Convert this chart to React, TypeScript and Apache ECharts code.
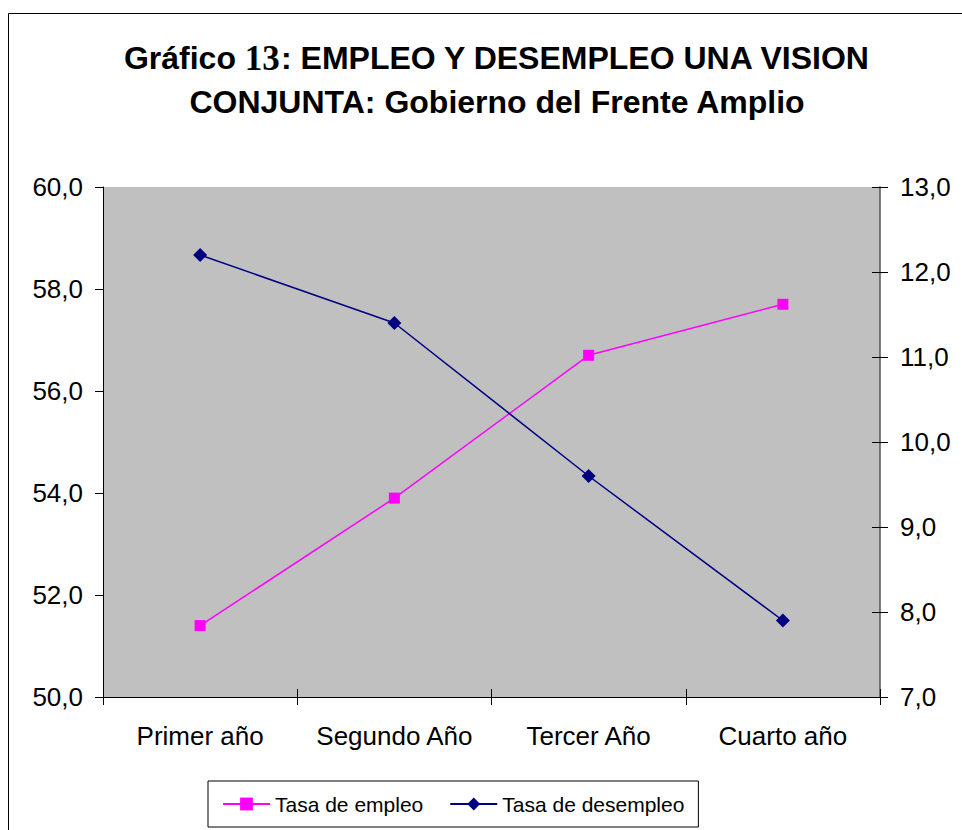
import React, { useEffect, useRef } from "react";
import * as echarts from "echarts";

const categories = ["Primer año", "Segundo Año", "Tercer Año", "Cuarto año"];
const empleo = [51.4, 53.9, 56.7, 57.7];
const desempleo = [12.2, 11.4, 9.6, 7.9];
const leftAxis = { min: 50, max: 60, interval: 2 };
const rightAxis = { min: 7, max: 13, interval: 1 };

const FONT = "'Liberation Sans', Arial, sans-serif";
const fmt = (v: number) => v.toFixed(1).replace(".", ",");

export default function App() {
  const ref = useRef<HTMLDivElement>(null);
  useEffect(() => {
    if (!ref.current) return;
    const chart = echarts.init(ref.current, null, { renderer: "svg" });
    chart.setOption({
      animation: false,
      backgroundColor: "#ffffff",
      textStyle: { fontFamily: FONT },
      graphic: [
        {
          type: "rect",
          shape: { x: 8.5, y: 13.5, width: 1000, height: 900 },
          style: { fill: "none", stroke: "#000", lineWidth: 1 },
          silent: true,
          z: -1,
        },
      ],
      title: {
        left: 492,
        textAlign: "center",
        top: 31,
        text:
          "{a|Gráfico }{b|13}{a|: EMPLEO Y DESEMPLEO UNA VISION}\n{a|CONJUNTA: Gobierno del Frente Amplio}",
        textStyle: {
          rich: {
            a: { fontFamily: FONT, fontWeight: "bold", fontSize: 32, color: "#000", lineHeight: 44 },
            b: { fontFamily: "'Liberation Serif', 'Times New Roman', serif", fontWeight: "bold", fontSize: 35, color: "#000", lineHeight: 44 },
          },
        },
      },
      grid: {
        left: 103,
        right: 82,
        top: 187,
        bottom: 133,
        show: true,
        backgroundColor: "#c0c0c0",
        borderWidth: 0,
      },
      legend: {
        left: 208,
        top: 781,
        orient: "horizontal",
        padding: [10, 14, 10, 14],
        borderColor: "#000",
        borderWidth: 1,
        backgroundColor: "#fff",
        itemWidth: 47,
        itemHeight: 16,
        itemGap: 26,
        textStyle: { fontFamily: FONT, fontSize: 21, color: "#000", lineHeight: 26 },
        data: ["Tasa de empleo", "Tasa de desempleo"],
      },
      xAxis: [
        {
          type: "category",
          data: categories,
          boundaryGap: true,
          axisLine: { show: true, lineStyle: { color: "#000", width: 1 } },
          axisTick: { show: true, length: 8, lineStyle: { color: "#000" } },
          axisLabel: { interval: 0, fontFamily: FONT, fontSize: 26, color: "#000", margin: 26 },
          splitLine: { show: false },
        },
        {
          type: "category",
          data: categories,
          boundaryGap: true,
          position: "bottom",
          axisLine: { show: false },
          axisTick: { show: true, inside: true, length: 8, lineStyle: { color: "#000" } },
          axisLabel: { show: false },
          splitLine: { show: false },
        },
      ],
      yAxis: [
        {
          type: "value",
          position: "left",
          min: leftAxis.min,
          max: leftAxis.max,
          interval: leftAxis.interval,
          axisLine: { show: true, lineStyle: { color: "#000", width: 1 } },
          axisTick: { show: true, length: 8, lineStyle: { color: "#000" } },
          axisLabel: { fontFamily: FONT, fontSize: 26, color: "#000", margin: 20, formatter: fmt },
          splitLine: { show: false },
        },
        {
          type: "value",
          position: "right",
          min: rightAxis.min,
          max: rightAxis.max,
          interval: rightAxis.interval,
          axisLine: { show: true, lineStyle: { color: "#555", width: 1.5 } },
          axisTick: { show: true, length: 8, lineStyle: { color: "#000" } },
          axisLabel: { fontFamily: FONT, fontSize: 26, color: "#000", margin: 20, formatter: fmt },
          splitLine: { show: false },
        },
        {
          type: "value",
          position: "right",
          min: rightAxis.min,
          max: rightAxis.max,
          interval: rightAxis.interval,
          axisLine: { show: false },
          axisTick: { show: true, inside: true, length: 8, lineStyle: { color: "#000" } },
          axisLabel: { show: false },
          splitLine: { show: false },
        },
      ],
      series: [
        {
          name: "Tasa de empleo",
          type: "line",
          xAxisIndex: 0,
          yAxisIndex: 0,
          data: empleo,
          symbol: "rect",
          symbolSize: 11,
          itemStyle: { color: "#ff00ff" },
          lineStyle: { color: "#ff00ff", width: 1.5 },
        },
        {
          name: "Tasa de desempleo",
          type: "line",
          xAxisIndex: 0,
          yAxisIndex: 1,
          data: desempleo,
          symbol: "diamond",
          symbolSize: 14,
          itemStyle: { color: "#000080" },
          lineStyle: { color: "#000080", width: 1.5 },
        },
      ],
    });
    return () => chart.dispose();
  }, []);
  return (
    <div
      ref={ref}
      style={{ position: "absolute", left: 0, top: 0, width: 962, height: 830 }}
    />
  );
}
